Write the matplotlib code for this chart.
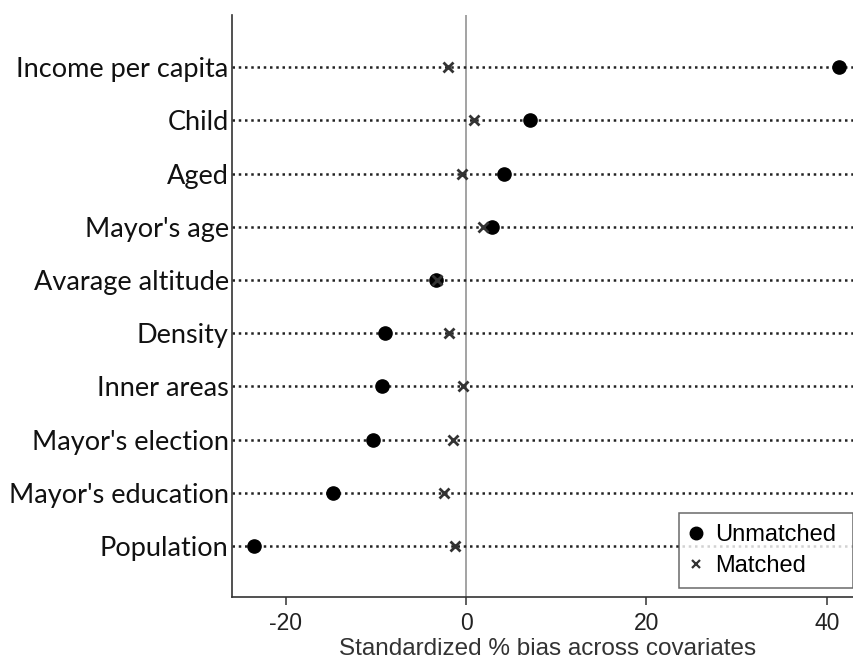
import matplotlib
matplotlib.use("Agg")
import matplotlib.pyplot as plt
from matplotlib.lines import Line2D

# covariates, top to bottom
covariates = ["Income per capita", "Child", "Aged", "Mayor's age",
              "Avarage altitude", "Density", "Inner areas",
              "Mayor's election", "Mayor's education", "Population"]
unmatched = [41.3, 7.1, 4.2, 2.9, -3.3, -9.0, -9.3, -10.3, -14.7, -23.5]
matched = [-2.0, 0.9, -0.5, 1.9, -3.2, -1.9, -0.3, -1.5, -2.5, -1.2]
xticks = [-20, 0, 20, 40]

W, H = 854, 662
fig = plt.figure(figsize=(W / 100, H / 100), dpi=100)
ax = fig.add_axes([231.5 / W, 1 - 597 / H, (863 - 231.5) / W, (597 - 15) / H])

rows = list(range(len(covariates)))

# dotted guide line for every covariate
for r in rows:
    ax.axhline(r, color="#222222", lw=1.8, ls=(0, (1, 1.5)), zorder=1)

ax.axvline(0, color="#8a8a8a", lw=1.1, zorder=0)

ax.plot(unmatched, rows, "o", color="black", ms=9.5, ls="none", zorder=3)
ax.plot(matched, rows, "x", color="#333333", ms=6.5, mew=2, ls="none", zorder=4)

ax.set_xlim(-26, 44)
ax.set_ylim(9.96, -0.98)

ax.set_yticks(rows)
ax.set_yticklabels(covariates, family="Lato", fontsize=19.5, color="#111111")
ax.tick_params(axis="y", length=0, pad=2)

ax.set_xticks(xticks)
ax.set_xticklabels([str(t) for t in xticks], family="Liberation Sans",
                   fontsize=16.5, color="#222222")
ax.tick_params(axis="x", length=6, width=1.1, color="#333333", pad=5)

ax.set_xlabel("Standardized % bias across covariates", family="Liberation Sans",
              fontsize=17.5, color="#333333", labelpad=2)

for s in ["top", "right"]:
    ax.spines[s].set_visible(False)
for s in ["left", "bottom"]:
    ax.spines[s].set_linewidth(1.2)
    ax.spines[s].set_color("#333333")

handles = [
    Line2D([], [], marker="o", color="black", ls="none", ms=9),
    Line2D([], [], marker="x", color="#333333", ls="none", ms=5.5, mew=1.6),
]
leg = fig.legend(handles, ["Unmatched", "Matched"], loc="lower left",
                 bbox_to_anchor=(679 / W, 1 - 588 / H, 174 / W, 77 / H),
                 mode="expand",
                 prop={"family": "Liberation Sans", "size": 17},
                 frameon=True, fancybox=False, edgecolor="#444444",
                 handlelength=0.5, handletextpad=0.6, borderpad=0.45,
                 labelspacing=0.4, borderaxespad=0)
leg.get_frame().set_linewidth(1.1)

fig.savefig("out.png", dpi=100)
